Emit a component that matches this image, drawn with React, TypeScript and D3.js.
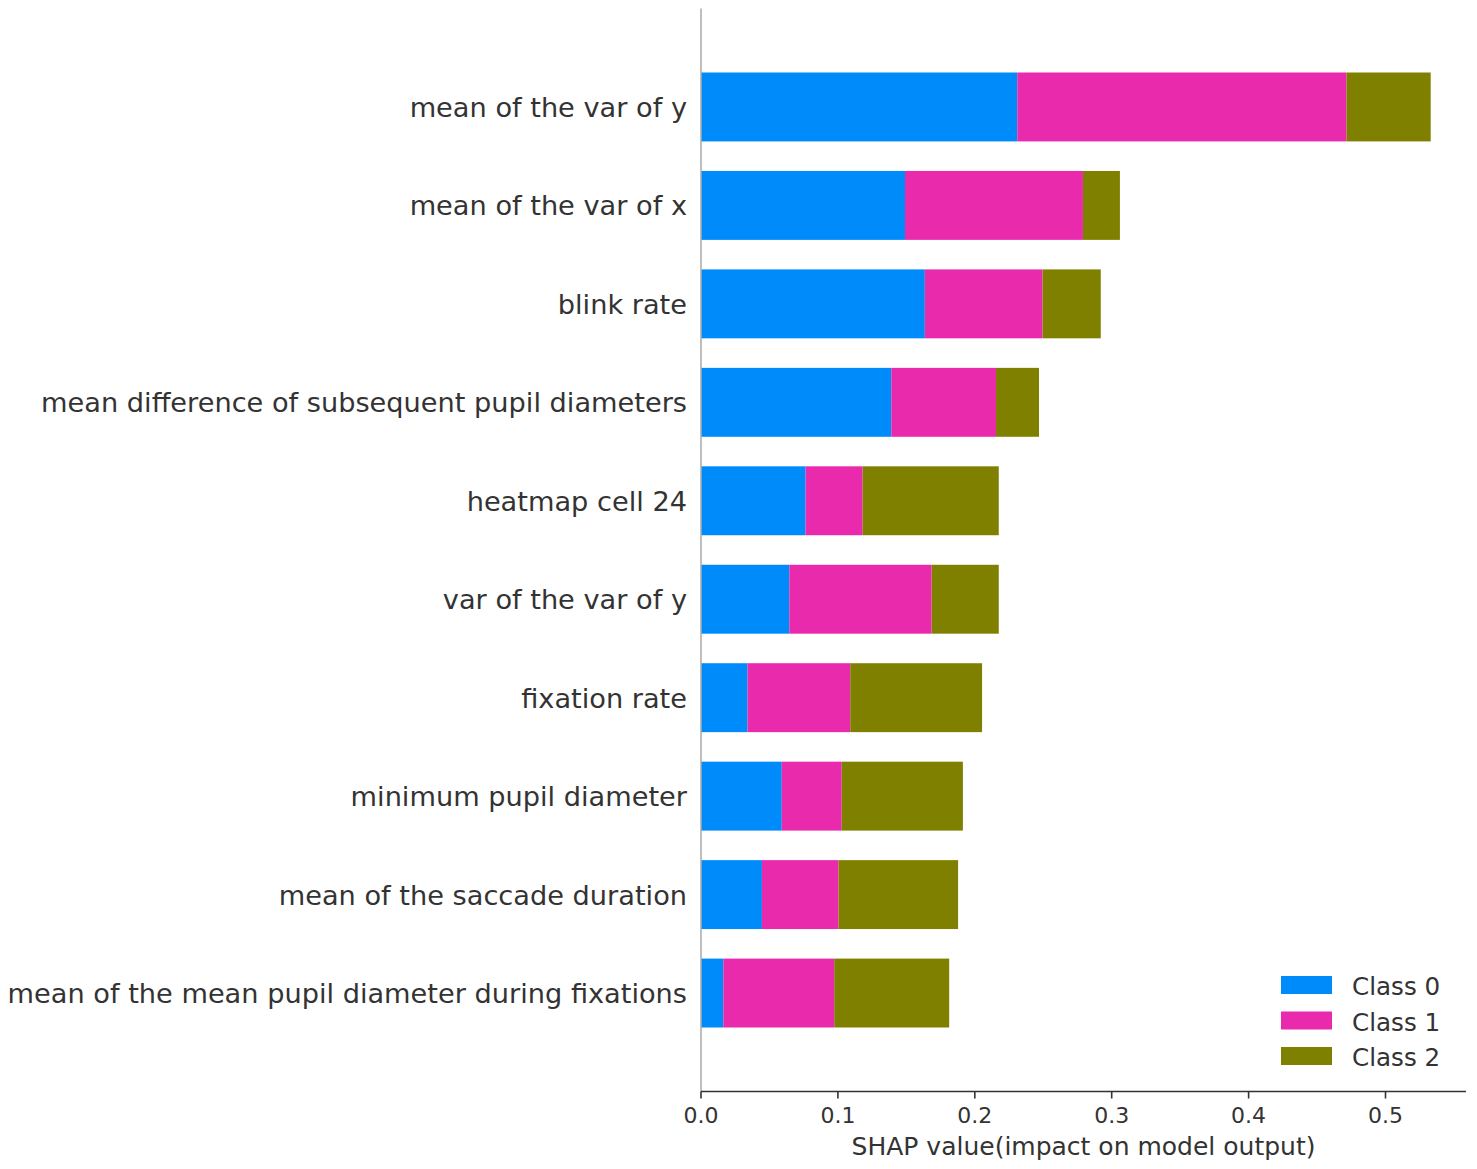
import React from "react";
import * as d3 from "d3";

const features = [
  "mean of the var of y",
  "mean of the var of x",
  "blink rate",
  "mean difference of subsequent pupil diameters",
  "heatmap cell 24",
  "var of the var of y",
  "fixation rate",
  "minimum pupil diameter",
  "mean of the saccade duration",
  "mean of the mean pupil diameter during fixations",
];
const class0 = [0.231, 0.149, 0.1635, 0.139, 0.0764, 0.0645, 0.034, 0.059, 0.0445, 0.0163];
const class1 = [0.2405, 0.13, 0.086, 0.0765, 0.0417, 0.104, 0.075, 0.0438, 0.056, 0.081];
const class2 = [0.0615, 0.027, 0.0425, 0.0314, 0.0994, 0.049, 0.0963, 0.0885, 0.0873, 0.084];
const classNames = ["Class 0", "Class 1", "Class 2"];
const classColors = ["#008bfb", "#e92aad", "#808000"];
const xTicks = [0, 0.1, 0.2, 0.3, 0.4, 0.5];
const xLabel = "SHAP value(impact on model output)";

const W = 1477;
const H = 1169;
const FONT = "'DejaVu Sans', sans-serif";

export default function App() {
  const n = features.length;
  const x = d3.scaleLinear().domain([0, 0.5588]).range([701, 1466]);
  const y = d3.scaleLinear().domain([-1, n]).range([1091.5, 8.5]);
  const series = [class0, class1, class2];
  const barH = Math.abs(y(0.35) - y(-0.35));

  const bars: React.ReactNode[] = [];
  features.forEach((f, i) => {
    const yv = n - 1 - i;
    let left = 0;
    series.forEach((s, k) => {
      const v = s[i];
      bars.push(
        <rect
          key={`${i}-${k}`}
          x={x(left)}
          y={y(yv) - barH / 2}
          width={x(left + v) - x(left)}
          height={barH}
          fill={classColors[k]}
        />
      );
      left += v;
    });
  });

  const y0 = y(-1);
  return (
    <svg
      width={W}
      height={H}
      style={{ position: "absolute", left: 0, top: 0, background: "#fff" }}
      fontFamily={FONT}
    >
      <rect x={0} y={0} width={W} height={H} fill="#fff" />
      {bars}
      {/* left spine */}
      <line x1={x(0)} x2={x(0)} y1={y(n)} y2={y0} stroke="#aaaaaa" strokeWidth={1.5} />
      {/* bottom spine */}
      <line x1={x(0)} x2={x(0.5588)} y1={y0} y2={y0} stroke="#333333" strokeWidth={1.6} />
      {xTicks.map((t) => (
        <g key={t}>
          <line x1={x(t)} x2={x(t)} y1={y0} y2={y0 + 7} stroke="#333333" strokeWidth={1.6} />
          <text
            x={x(t)}
            y={1123}
            textAnchor="middle"
            fontSize={22}
            fill="#333333"
          >
            {d3.format(".1f")(t)}
          </text>
        </g>
      ))}
      <text x={(x(0) + x(0.5588)) / 2} y={1155} textAnchor="middle" fontSize={25} fill="#333333">
        {xLabel}
      </text>
      {features.map((f, i) => (
        <text
          key={f}
          x={687}
          y={y(n - 1 - i) + 10}
          textAnchor="end"
          fontSize={27.2}
          fill="#333333"
        >
          {f}
        </text>
      ))}
      {classNames.map((c, k) => (
        <g key={c}>
          <rect x={1281} y={976 + k * 35.5} width={51} height={18} fill={classColors[k]} />
          <text x={1352} y={995 + k * 35.5} fontSize={24.6} fill="#333333">
            {c}
          </text>
        </g>
      ))}
    </svg>
  );
}
